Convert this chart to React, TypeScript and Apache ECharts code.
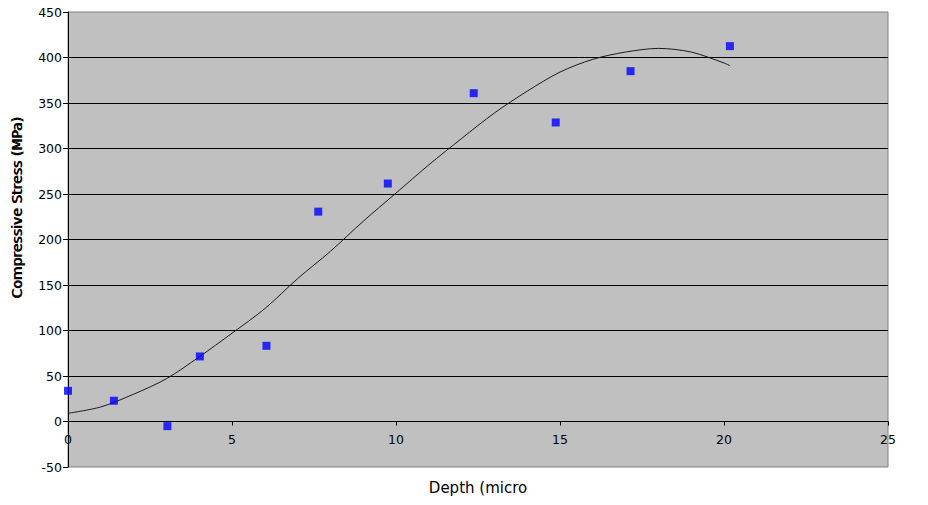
import React, { useEffect, useRef } from "react";
import * as echarts from "echarts";

// Measured data points: [depth, stress]
const depths = [0, 1.4, 3.03, 4.02, 6.05, 7.63, 9.75, 12.37, 14.87, 17.15, 20.18];
const stresses = [33.7, 22.8, -5.1, 71.5, 83.2, 230.6, 261.5, 360.8, 328.6, 385, 412.5];

// Trend curve
const trendX = [0, 1, 2, 3, 4, 5, 6, 7, 8, 9, 10, 11, 12, 13, 14, 15, 16, 17, 18, 19, 20, 20.18];
const trendY = [9, 16, 30, 47, 71, 97, 124, 157, 187, 220, 251, 282, 311, 339, 363, 384, 398, 406, 410, 406, 394, 391];

const xTitle = "Depth (micro";
const yTitle = "Compressive Stress (MPa)";

const FONT = "DejaVu Sans";

const GRID_TOP = 12;
const GRID_BOTTOM = 38;
const CHART_H = 505;
const Y_MIN = -50;
const Y_MAX = 450;

export default function App() {
  const ref = useRef<HTMLDivElement>(null);
  useEffect(() => {
    if (!ref.current) return;
    const chart = echarts.init(ref.current, null, { renderer: "svg" });
    const plotH = CHART_H - GRID_TOP - GRID_BOTTOM;
    // move the x axis up so that it sits on y = 0
    const zeroOffset = -plotH * (0 - Y_MIN) / (Y_MAX - Y_MIN);
    chart.setOption({
      animation: false,
      backgroundColor: "#ffffff",
      grid: {
        left: 68,
        right: 40,
        top: GRID_TOP,
        bottom: GRID_BOTTOM,
        show: true,
        backgroundColor: "#C0C0C0",
        borderColor: "#808080",
        borderWidth: 1,
      },
      xAxis: {
        type: "value",
        min: 0,
        max: 25,
        interval: 5,
        offset: zeroOffset,
        axisLine: { show: true, onZero: false, lineStyle: { color: "#000", width: 1 } },
        axisTick: { show: true, inside: false, length: 4, lineStyle: { color: "#000" } },
        axisLabel: { margin: 11, color: "#000", fontFamily: FONT, fontSize: 12.5 },
        splitLine: { show: false },
      },
      yAxis: {
        type: "value",
        min: Y_MIN,
        max: Y_MAX,
        interval: 50,
        axisLine: { show: true, onZero: false, lineStyle: { color: "#000", width: 1 } },
        axisTick: { show: true, inside: false, length: 5, lineStyle: { color: "#000" } },
        axisLabel: { margin: 6, color: "#000", fontFamily: FONT, fontSize: 12.5 },
        splitLine: {
          show: true,
          showMinLine: false,
          showMaxLine: false,
          lineStyle: { color: "#000", width: 1 },
        },
      },
      series: [
        {
          type: "line",
          data: trendX.map((x, i) => [x, trendY[i]]),
          smooth: 0.3,
          showSymbol: false,
          symbol: "none",
          lineStyle: { color: "#1a1a1a", width: 1 },
          z: 2,
        },
        {
          type: "scatter",
          data: depths.map((x, i) => [x, stresses[i]]),
          symbol: "rect",
          symbolSize: 8,
          itemStyle: { color: "#0000FF" },
          z: 3,
        },
      ],
      graphic: [
        {
          type: "text",
          x: 478,
          y: 488,
          style: {
            text: xTitle,
            fill: "#000",
            font: `15px ${FONT}`,
            textAlign: "center",
            textVerticalAlign: "middle",
          },
        },
        {
          type: "text",
          x: 17,
          y: 207,
          rotation: Math.PI / 2,
          style: {
            text: yTitle,
            fill: "#000",
            font: `14px ${FONT}`,
            textAlign: "center",
            textVerticalAlign: "middle",
          },
        },
        {
          type: "text",
          x: 17,
          y: 208,
          rotation: Math.PI / 2,
          style: {
            text: yTitle,
            fill: "#000",
            font: `14px ${FONT}`,
            textAlign: "center",
            textVerticalAlign: "middle",
          },
        },
      ],
    });
    return () => chart.dispose();
  }, []);
  return (
    <div
      ref={ref}
      style={{ position: "fixed", left: 0, top: 0, width: 928, height: 505 }}
    />
  );
}
